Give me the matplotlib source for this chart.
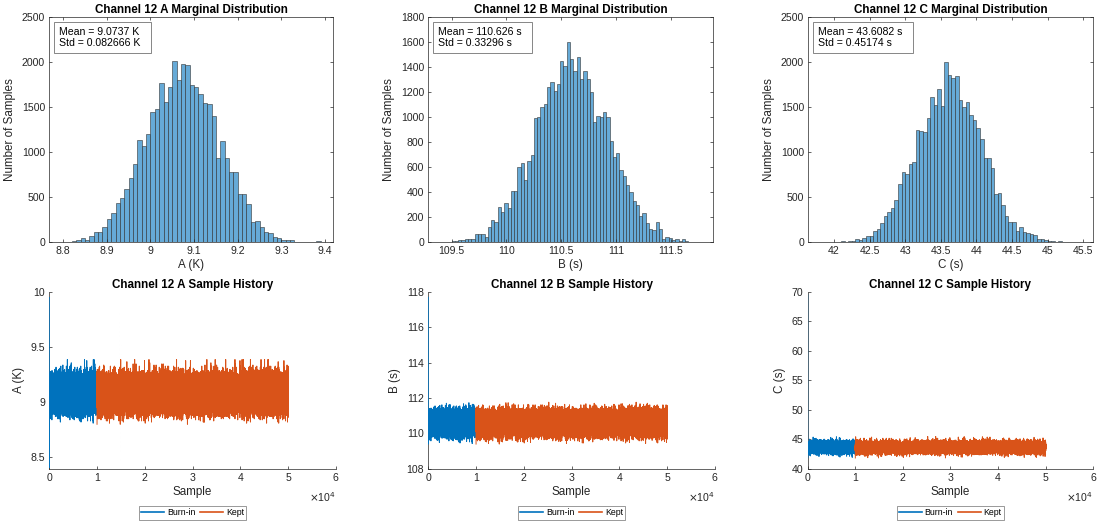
import numpy as np
import matplotlib
matplotlib.use("Agg")
import matplotlib.pyplot as plt

plt.rcParams["font.family"] = ["Liberation Sans", "DejaVu Sans"]
plt.rcParams["agg.path.chunksize"] = 10000
plt.rcParams["path.simplify"] = False

# ---------------- data ----------------

params = ["A", "B", "C"]
units = ["K", "s", "s"]
means = ["9.0737", "110.626", "43.6082"]
stds = ["0.082666", "0.33296", "0.45174"]

# histogram bins: first left edge, bin width, counts (kept samples)
a_left, a_width = 8.79, 0.01
a_counts = [3, 5, 8, 15, 20, 45, 30, 75, 110, 115,
            170, 260, 320, 440, 490, 590, 710, 870, 1130, 1070,
            1200, 1440, 1480, 1760, 1560, 1720, 2010, 1800, 1980, 1960,
            1740, 1720, 1640, 1540, 1530, 1400, 930, 1120, 930, 780,
            780, 540, 530, 420, 220, 240, 170, 110, 100, 60,
            50, 20, 30, 20, 8, 5, 2, 2, 5, 15]

b_left, b_width = 109.38, 0.03
b_counts = [2, 3, 5, 4, 8, 10, 20, 15, 30, 30,
            25, 65, 65, 70, 45, 120, 180, 160, 280, 240,
            310, 270, 410, 410, 600, 630, 500, 650, 700, 990,
            1000, 1080, 1100, 1240, 1280, 1210, 1260, 1450, 1410, 1600,
            1460, 1370, 1480, 1300, 1370, 1300, 1200, 960, 1010, 1000,
            1040, 1000, 810, 680, 710, 580, 530, 460, 400, 330,
            300, 210, 230, 150, 110, 100, 160, 110, 30, 40,
            35, 20, 30, 10, 25, 8, 5, 3, 2, 2]

c_left, c_width = 41.80, 0.05
c_counts = [3, 1, 4, 2, 2, 3, 15, 8, 10, 15,
            40, 30, 50, 70, 70, 130, 145, 210, 290, 340,
            380, 470, 650, 780, 760, 870, 890, 1240, 1230, 1220,
            1380, 1610, 1520, 1700, 1510, 2000, 1850, 1820, 1840, 1580,
            1500, 1550, 1410, 1360, 1270, 1150, 930, 930, 820, 540,
            550, 410, 290, 230, 220, 120, 170, 110, 100, 90,
            80, 40, 35, 20, 10, 10, 5, 15, 5, 3,
            2, 5, 3, 2]

# start of each chain (burn-in transient)
a_burn_start = [9.95, 9.6, 8.40, 8.6]
b_burn_start = [117.7, 116.0, 114.3, 112.2]
c_burn_start = [69.5, 57.0, 50.0, 46.5]

n_burn = 10000
n_total = 50000

# axis settings
hist_xlim = [(8.768, 9.419), (109.287, 111.886), (41.64, 45.64)]
hist_xticks = [np.arange(8.8, 9.41, 0.1), np.arange(109.5, 111.51, 0.5),
               np.arange(42, 45.51, 0.5)]
hist_ylim = [2500, 1800, 2500]
hist_ystep = [500, 200, 500]
trace_ylim = [(8.39, 10), (108, 118), (40, 70)]
trace_yticks = [[8.5, 9, 9.5, 10], np.arange(108, 119, 2), np.arange(40, 71, 5)]

hists = [(a_left, a_width, a_counts), (b_left, b_width, b_counts),
         (c_left, c_width, c_counts)]
starts = [a_burn_start, b_burn_start, c_burn_start]

BLUE = "#0072BD"
ORANGE = "#D95319"
AXC = "#262626"


def chain_from_hist(left, width, counts, step, mult):
    # samples rebuilt from the histogram, laid out in a scrambled order
    centers = left + width * (np.arange(len(counts)) + 0.5)
    vals = np.repeat(centers, counts)[::step]
    k = np.arange(len(vals), dtype=float)
    order = np.argsort((k * k * mult + k * 0.5) % 1.0)
    return vals[order]


def style(ax, box=True):
    for s in ax.spines.values():
        s.set_color(AXC)
        s.set_linewidth(0.5)
    if not box:
        ax.spines["top"].set_visible(False)
        ax.spines["right"].set_visible(False)
    ax.tick_params(direction="in", length=2.5, width=0.5, colors=AXC,
                   labelsize=7.6, top=box, right=box, pad=3)


fig = plt.figure(figsize=(10.97, 5.25), dpi=100)

hist_pos = [(0.0449, 0.5385, 0.2589, 0.4297), (0.3904, 0.5385, 0.2598, 0.4297),
            (0.7368, 0.5385, 0.2598, 0.4297)]
trace_pos = [(0.0449, 0.1072, 0.2613, 0.3366), (0.3904, 0.1072, 0.2613, 0.3366),
             (0.7363, 0.1072, 0.2603, 0.3366)]

for i in range(3):
    left, width, counts = hists[i]
    edges = left + width * np.arange(len(counts) + 1)
    centers = (edges[:-1] + edges[1:]) / 2

    # ---------------- marginal histogram ----------------
    ax = fig.add_axes(hist_pos[i])
    ax.hist(centers, bins=edges, weights=counts, color=(0.4, 0.668, 0.845),
            edgecolor=(0.15, 0.15, 0.15, 0.75), linewidth=0.5)
    ax.set_xlim(*hist_xlim[i])
    ax.set_ylim(0, hist_ylim[i])
    ax.set_xticks(hist_xticks[i])
    ax.set_xticklabels(["%g" % round(v, 2) for v in hist_xticks[i]])
    ax.set_yticks(np.arange(0, hist_ylim[i] + 1, hist_ystep[i]))
    style(ax, box=True)
    ax.set_title(f"Channel 12 {params[i]} Marginal Distribution",
                 fontsize=8.4, fontweight="bold", pad=3)
    ax.set_xlabel(f"{params[i]} ({units[i]})", fontsize=8.4, color=AXC, labelpad=2)
    ax.set_ylabel("Number of Samples", fontsize=8.4, color=AXC, labelpad=4)
    ax.text(0.035, 0.955,
            f"Mean = {means[i]} {units[i]}  \nStd = {stds[i]} {units[i]}  ",
            transform=ax.transAxes, va="top", ha="left", fontsize=7.6,
            linespacing=1.2,
            bbox=dict(boxstyle="square,pad=0.45", fc="white", ec="0.45", lw=0.6))

    # ---------------- sample history ----------------
    kept = chain_from_hist(left, width, counts, 1, 0.6180339887498949)
    burn = np.concatenate([starts[i],
                           chain_from_hist(left, width, counts, 4, 0.4142135623730951)])
    burn = burn[:n_burn]
    x_burn = np.arange(1, len(burn) + 1)
    x_kept = np.linspace(n_burn + 1, n_total, len(kept))

    ax = fig.add_axes(trace_pos[i])
    ax.plot(x_burn, burn, color=BLUE, lw=0.7, label="Burn-in", zorder=3)
    ax.plot(x_kept, kept, color=ORANGE, lw=0.7, label="Kept", zorder=3)
    ax.set_xlim(0, 60000)
    ax.set_ylim(*trace_ylim[i])
    xt = np.arange(0, 60001, 10000)
    ax.set_xticks(xt)
    ax.set_xticklabels(["%g" % (v / 1e4) for v in xt])
    ax.set_yticks(trace_yticks[i])
    ax.set_yticklabels(["%g" % v for v in trace_yticks[i]])
    style(ax, box=False)
    ax.set_title(f"Channel 12 {params[i]} Sample History",
                 fontsize=8.4, fontweight="bold", pad=3)
    ax.set_xlabel("Sample", fontsize=8.4, color=AXC, labelpad=2)
    ax.set_ylabel(f"{params[i]} ({units[i]})", fontsize=8.4, color=AXC, labelpad=4)
    ax.text(1.0, -0.16, r"$\times$10$^{4}$", transform=ax.transAxes,
            ha="right", va="center", fontsize=7.6, color=AXC)
    leg = ax.legend(loc="center", bbox_to_anchor=(0.5, -0.25), ncol=2,
                    fontsize=6.3, frameon=True, fancybox=False,
                    handlelength=2.6, handletextpad=0.3, columnspacing=0.6,
                    borderpad=0.3, borderaxespad=0)
    leg.get_frame().set_edgecolor("0.3")
    leg.get_frame().set_linewidth(0.5)
    for line in leg.get_lines():
        line.set_linewidth(1.2)

fig.savefig("out.png", dpi=100)
